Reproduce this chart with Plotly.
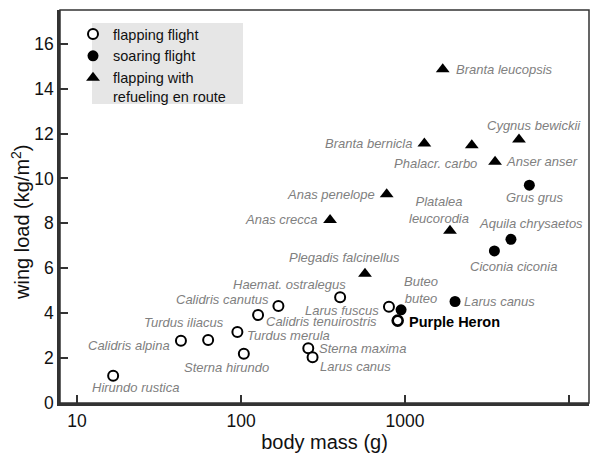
import numpy as np
import plotly.graph_objects as go

# ---- data ----
flap_names = ["Hirundo rustica", "Calidris alpina", "Turdus iliacus", "Turdus merula",
              "Sterna hirundo", "Calidris tenuirostris", "Calidris canutus",
              "Haemat. ostralegus", "Larus fuscus", "Sterna maxima", "Larus canus"]
flap_mass = [16.6, 43, 63, 95, 104, 127, 169, 402, 798, 257, 273]
flap_load = [1.21, 2.77, 2.81, 3.16, 2.19, 3.92, 4.32, 4.71, 4.29, 2.44, 2.04]

heron_name = ["Purple Heron"]
heron_mass = [902]
heron_load = [3.67]

soar_names = ["Buteo<br>buteo", "Larus canus", "Ciconia ciconia", "Aquila chrysaetos", "Grus grus"]
soar_mass = [946, 2018, 3508, 4426, 5730]
soar_load = [4.15, 4.52, 6.77, 7.29, 9.70]

refuel_names = ["Anas crecca", "Anas penelope", "Plegadis falcinellus", "Branta bernicla",
                "Branta leucopsis", "Platalea<br>leucorodia", "Phalacr. carbo",
                "Anser anser", "Cygnus bewickii"]
refuel_mass = [349, 773, 570, 1312, 1698, 1880, 2553, 3540, 4954]
refuel_load = [8.15, 9.30, 5.75, 11.56, 14.86, 7.67, 11.48, 10.74, 11.73]

x_ticks = [10, 100, 1000, 10000]
x_tick_labels = ["10", "100", "1000", "10000"]
y_ticks = [0, 2, 4, 6, 8, 10, 12, 14, 16]

# ---- label placement (style): anchor, dx, dy(px, + = down) ----
label_style = {
    "Hirundo rustica": ("left", -23, 12),
    "Calidris alpina": ("right", -9, 5),
    "Turdus iliacus": ("center", -24, -17),
    "Turdus merula": ("left", 8, 3),
    "Sterna hirundo": ("center", -17, 14),
    "Calidris tenuirostris": ("left", 6, 7),
    "Calidris canutus": ("right", -7, -6),
    "Haemat. ostralegus": ("right", 8, -13),
    "Larus fuscus": ("right", -8, 4),
    "Sterna maxima": ("left", 9, 0),
    "Larus canus": ("left", 5, 9),
    "Buteo<br>buteo": ("left", 1, -20),
    "Larus canus ": ("left", 7, 0),
    "Ciconia ciconia": ("center", 19, 16),
    "Aquila chrysaetos": ("center", 20, -16),
    "Grus grus": ("center", 6, 12),
    "Anas crecca": ("right", -10, 0),
    "Anas penelope": ("right", -10, 0),
    "Plegadis falcinellus": ("center", -20, -16),
    "Branta bernicla": ("right", -10, 0),
    "Branta leucopsis": ("left", 11, 0),
    "Platalea<br>leucorodia": ("center", -11, -21),
    "Phalacr. carbo": ("right", 7, 18),
    "Anser anser": ("left", 9, 0),
    "Cygnus bewickii": ("center", 15, -14),
}

FONT = "Liberation Sans, Arial, Helvetica, sans-serif"
LABEL_COLOR = "#808080"

# plot-area geometry in pixels (figure 592x456)
L, R, T, B = 60, 589, 10, 403
PW, PH = R - L, B - T

def px_x(p):
    return (p - L) / PW

def px_y(p):
    return 1 - (p - T) / PH

fig = go.Figure()

fig.add_trace(go.Scatter(
    x=flap_mass, y=flap_load, mode="markers", name="flapping flight",
    marker=dict(symbol="circle", size=10, color="white",
                line=dict(color="black", width=2)),
))
fig.add_trace(go.Scatter(
    x=soar_mass, y=soar_load, mode="markers", name="soaring flight",
    marker=dict(symbol="circle", size=11, color="black",
                line=dict(color="black", width=0)),
))
fig.add_trace(go.Scatter(
    x=refuel_mass, y=refuel_load, mode="markers",
    name="flapping with<br>refueling en route",
    marker=dict(symbol="triangle-up", size=12, color="black",
                line=dict(color="black", width=0)),
))
fig.add_trace(go.Scatter(
    x=heron_mass, y=heron_load, mode="markers", name="Purple Heron",
    showlegend=False,
    marker=dict(symbol="circle", size=10, color="white",
                line=dict(color="black", width=2.6)),
))

def add_labels(names, masses, loads, keys=None):
    for i, (n, m, v) in enumerate(zip(names, masses, loads)):
        key = keys[i] if keys else n
        anchor, dx, dy = label_style[key]
        fig.add_annotation(
            x=np.log10(m), y=v, xref="x", yref="y", text=n, showarrow=False,
            xanchor=anchor, yanchor="middle", xshift=dx, yshift=-dy,
            font=dict(family=FONT, size=13, color=LABEL_COLOR, style="italic"),
        )

add_labels(flap_names, flap_mass, flap_load)
add_labels(soar_names, soar_mass, soar_load,
           keys=["Buteo<br>buteo", "Larus canus ", "Ciconia ciconia",
                 "Aquila chrysaetos", "Grus grus"])
add_labels(refuel_names, refuel_mass, refuel_load)

fig.add_annotation(
    x=np.log10(heron_mass[0]), y=heron_load[0], xref="x", yref="y",
    text="<b>" + heron_name[0] + "</b>", showarrow=False,
    xanchor="left", yanchor="middle", xshift=9, yshift=-1,
    font=dict(family=FONT, size=14.5, color="black"),
)

# y-axis title (placed as in the reference, slightly below centre)
fig.add_annotation(
    x=px_x(20), y=px_y(222), xref="paper", yref="paper",
    text="wing load (kg/m<sup>2</sup>)", showarrow=False, textangle=-90,
    xanchor="center", yanchor="middle",
    font=dict(family=FONT, size=20, color="#111111"),
)

# legend background box
fig.add_shape(type="rect", xref="paper", yref="paper",
              x0=px_x(92), x1=px_x(243), y0=px_y(104), y1=px_y(23),
              fillcolor="#e6e6e6", line=dict(width=0), layer="below")
# frame
fig.add_shape(type="rect", xref="paper", yref="paper", x0=0, x1=1, y0=0, y1=1,
              line=dict(color="#333333", width=1.5), layer="above")

fig.update_layout(
    width=592, height=456,
    margin=dict(l=L, r=592 - R, t=T, b=456 - B, autoexpand=False),
    paper_bgcolor="white", plot_bgcolor="white",
    font=dict(family=FONT, color="#222222"),
    showlegend=True,
    legend=dict(x=px_x(73), y=px_y(18), xanchor="left", yanchor="top",
                bgcolor="rgba(0,0,0,0)", font=dict(size=14.5, color="#111111"),
                tracegroupgap=0, valign="top", itemwidth=30),
    xaxis=dict(type="log", range=[np.log10(7.87), np.log10(13240)],
               tickvals=x_ticks, ticktext=x_tick_labels, automargin=False,
               ticks="inside", ticklen=8, tickwidth=1.5, tickcolor="#333333",
               showline=True, linecolor="#333333", linewidth=2.5,
               showgrid=False, zeroline=False,
               tickfont=dict(size=17.5, color="#111111"),
               title=dict(text="body mass (g)", font=dict(size=20, color="#111111"), standoff=0)),
    yaxis=dict(range=[0, 17.5], tickvals=y_ticks, automargin=False,
               ticks="inside", ticklen=8, tickwidth=1.5, tickcolor="#333333",
               showline=True, linecolor="#333333", linewidth=2.5,
               showgrid=False, zeroline=False,
               tickfont=dict(size=17.5, color="#111111")),
)

fig.write_html("out.html", config={"displayModeBar": False},
               post_script="document.body.style.margin='0px';document.body.style.overflow='hidden';")
